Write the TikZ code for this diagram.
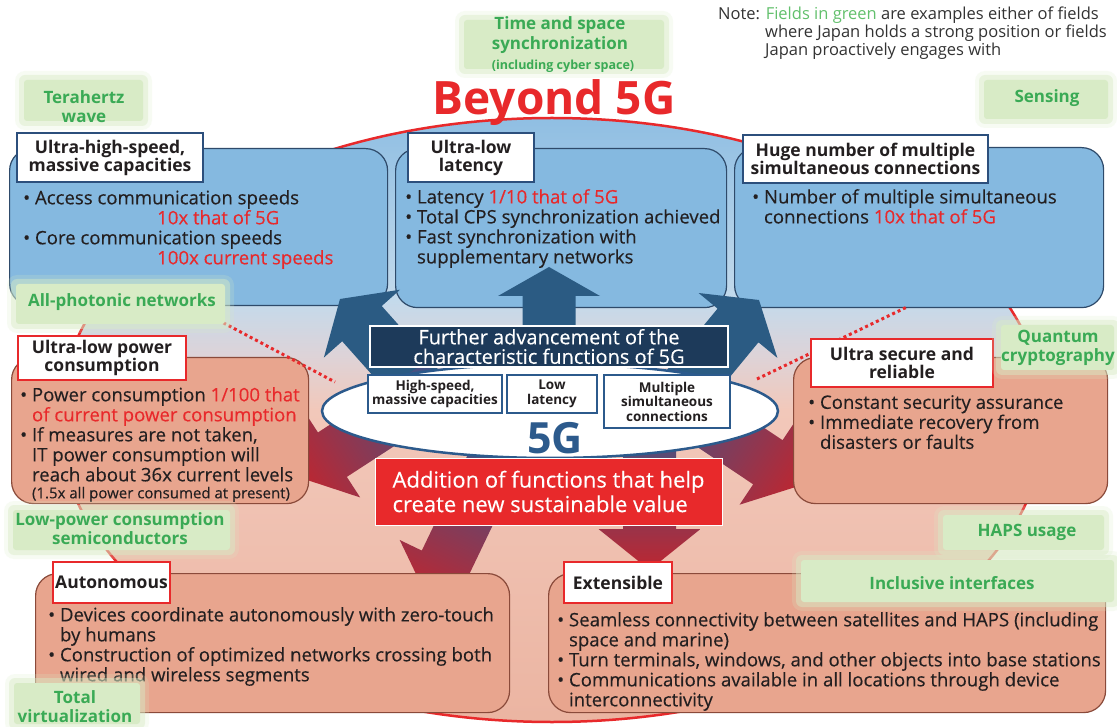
\documentclass[tikz,border=0pt]{standalone}
\usepackage{fontspec}
\setmainfont{Open Sans}
\newfontfamily\bodyfont{Open Sans}[FakeBold=0.25]
\usetikzlibrary{shapes.geometric}
\definecolor{hred}{HTML}{E8292B}
\definecolor{tblue}{HTML}{2C4F7C}
\definecolor{boxblue}{HTML}{85B9E0}
\definecolor{boxblueline}{HTML}{2E4A6A}
\definecolor{salmon}{HTML}{E8A58E}
\definecolor{salmonline}{HTML}{8A4A3A}
\definecolor{navy}{HTML}{1D3A5A}
\definecolor{arrowblue}{HTML}{2B5B83}
\definecolor{ared}{HTML}{BE2630}
\definecolor{apurple}{HTML}{3E5488}
\definecolor{ggreen}{HTML}{3AAA55}
\definecolor{glowc}{HTML}{D8EBC6}
\definecolor{notegreen}{HTML}{62C06C}
\definecolor{notegray}{HTML}{333333}
\definecolor{txt}{HTML}{231F20}
\definecolor{fiveg}{HTML}{2C5A8C}
\definecolor{bgA}{HTML}{8DBDE2}
\definecolor{bgB}{HTML}{C3DAEC}
\definecolor{bgM}{HTML}{DDD3D8}
\definecolor{bgC}{HTML}{F2C8BA}
\definecolor{bgD}{HTML}{EBB4A1}
\newcommand\cind{\hphantom{•\ }}
\newcommand\fatarrow[6]{%
  \begin{scope}[transform canvas={shift={(#1,#2)},rotate=#3}]
    \path[#6] (0,0) -- (#5,51) -- (#5,26.5) -- (#4,26.5) -- (#4,-26.5) -- (#5,-26.5) -- (#5,-51) -- cycle;
  \end{scope}}
\newcommand\greenglow[4]{%
  \fill[glowc,opacity=.2,rounded corners=10pt] ({#1-6},{#2-6}) rectangle ({#3+6},{#4+6});
  \fill[glowc,opacity=.45,rounded corners=6pt] ({#1-2},{#2-2}) rectangle ({#3+2},{#4+2});
  \fill[glowc,rounded corners=3pt] ({#1+3},{#2+3}) rectangle ({#3-3},{#4-3});}
\tikzset{
  body/.style={font=\bodyfont\fontsize{18.6}{20}\selectfont, text=txt, inner sep=0pt, align=left, anchor=north west, execute at begin node=\strut},
  bluebox/.style={draw=boxblueline, line width=1.2pt, fill=boxblue, rounded corners=22pt, inner sep=0pt, anchor=north west},
  salmonbox/.style={draw=salmonline, line width=1.2pt, fill=salmon, rounded corners=22pt, inner sep=0pt, anchor=north west},
  tbox/.style={fill=white, line width=2.2pt, inner sep=0pt, align=center, text=txt, font=\bfseries\fontsize{17.5}{18}\selectfont},
  sbox/.style={fill=white, draw=fiveg, line width=2pt, inner sep=0pt, align=center, text=txt, font=\bfseries\fontsize{13.5}{14.5}\selectfont},
  glabel/.style={font=\bfseries\fontsize{17}{19}\selectfont, text=ggreen, align=center, inner sep=0pt},
  dotline/.style={hred, line width=3pt, dash pattern=on 3pt off 3pt},
  redarrow/.style={left color=ared, right color=apurple},
}
\begin{document}
\begin{tikzpicture}[x=1pt,y=-1pt]
\useasboundingbox (0,0) rectangle (1117,727);
\fill[white] (0,0) rectangle (1117,727);
% big background ellipse
\begin{scope}
  \clip (552,420) ellipse [x radius=493, y radius=302];
  \shade[top color=bgA, bottom color=bgB] (50,110) rectangle (1060,300);
  \shade[top color=bgB, bottom color=bgC, middle color=bgM] (50,299.5) rectangle (1060,410);
  \shade[top color=bgC, bottom color=bgD] (50,409.5) rectangle (1060,730);
\end{scope}
\draw[hred, line width=2.5pt] (552,420) ellipse [x radius=493, y radius=302];

% blue boxes
\node[bluebox, minimum width=378pt, minimum height=157pt] (B1) at (9,148) {};
\node[bluebox, minimum width=331pt, minimum height=159pt] (B2) at (395,148) {};
\node[bluebox, minimum width=369pt, minimum height=160pt] (B3) at (734,147) {};

% blue arrows
\fatarrow{340}{299}{-48.3}{170}{33}{fill=arrowblue}
\fatarrow{549}{267}{-90}{140}{29}{fill=arrowblue}
\fatarrow{759}{300}{-129.5}{170}{33}{fill=arrowblue}
% red arrows
\fatarrow{298}{477}{33}{170}{41}{redarrow}
\fatarrow{802}{485}{146.3}{170}{41}{redarrow}
\fatarrow{428}{599}{64.4}{170}{41}{redarrow}
\fatarrow{649.5}{570}{90}{150}{41}{redarrow}

% salmon boxes
\node[salmonbox, minimum width=297pt, minimum height=146pt] (S4) at (11,357) {};
\node[salmonbox, minimum width=314pt, minimum height=146pt] (S5) at (793,357) {};
\node[salmonbox, minimum width=474pt, minimum height=139pt] (S6) at (35,573) {};
\node[salmonbox, minimum width=557pt, minimum height=139pt] (S7) at (548,573) {};

% centre
\node[ellipse, draw=fiveg, line width=2.5pt, fill=white, minimum width=456pt, minimum height=94pt, inner sep=0pt] (core) at (550,411) {};
\node[fill=navy, draw=white, line width=1.5pt, minimum width=358pt, minimum height=41pt, inner sep=0pt, text=white, align=center, font=\bodyfont\fontsize{20}{19.5}\selectfont] (adv) at (549,346.5) {Further advancement of the\\characteristic functions of 5G};
\node[sbox, minimum width=134pt, minimum height=38pt] (hs) at (435,394) {High-speed,\\massive capacities};
\node[sbox, minimum width=90pt, minimum height=38pt] (ll) at (552,394) {Low\\latency};
\node[sbox, minimum width=126pt, minimum height=53pt] (ms) at (667,401.5) {Multiple\\simultaneous\\connections};
\node[anchor=base, inner sep=0pt, text=fiveg, font=\bfseries\fontsize{43}{43}\selectfont] (fg) at (555,453) {5G};
\node[fill=hred, draw=white, line width=1pt, minimum width=347pt, minimum height=67pt, inner sep=0pt, text=white, align=left, font=\bodyfont\fontsize{22}{24.5}\selectfont] (add) at (548.5,491.5) {Addition of functions that help\\create new sustainable value};

% dotted connectors
\coordinate (dl1) at (218,320);
\coordinate (dl2) at (335,382);
\coordinate (dr1) at (757,379);
\coordinate (dr2) at (907,307);
\draw[dotline] (dl1) -- (dl2);
\draw[dotline] (dr1) -- (dr2);

% title boxes
\node[tbox, draw=tblue, minimum width=186pt, minimum height=49pt] (L1) at (110,157.5) {Ultra-high-speed,\\massive capacities};
\node[tbox, draw=tblue, minimum width=126pt, minimum height=49pt] (L2) at (471,157.5) {Ultra-low\\latency};
\node[tbox, draw=tblue, minimum width=245pt, minimum height=48pt] (L3) at (865.5,159) {Huge number of multiple\\simultaneous connections};
\node[tbox, draw=hred, minimum width=168pt, minimum height=44pt] (L4) at (102,358) {Ultra-low power\\consumption};
\node[tbox, draw=hred, minimum width=182pt, minimum height=48pt] (L5) at (902,363) {Ultra secure and\\reliable};
\node[tbox, draw=hred, minimum width=117pt, minimum height=41pt] (L6) at (111.5,582.5) {Autonomous};
\node[tbox, draw=hred, minimum width=108pt, minimum height=41pt] (L7) at (618,582.5) {Extensible};

% body texts
\node[body] (t1) at (23,190) {• Access communication speeds\\\hspace*{134pt}\textcolor{hred}{10x that of 5G}\\• Core communication speeds\\\hspace*{134pt}\textcolor{hred}{100x current speeds}};
\node[body] (t2) at (405,189) {• Latency \textcolor{hred}{1/10 that of 5G}\\• Total CPS synchronization achieved\\• Fast synchronization with\\\cind supplementary networks};
\node[body] (t3) at (752,189) {• Number of multiple simultaneous\\\cind connections \textcolor{hred}{10x that of 5G}};
\node[body] (t4) at (20,387) {• Power consumption \textcolor{hred}{1/100 that}\\\cind\textcolor{hred}{of current power consumption}\\• If measures are not taken,\\\cind IT power consumption will\\\cind reach about 36x current levels\\[-3pt]\cind{\fontsize{15}{17}\selectfont(1.5x all power consumed at present)}};
\node[body] (t5) at (808,395) {• Constant security assurance\\• Immediate recovery from\\\cind disasters or faults};
\node[body] (t6) at (48,607) {• Devices coordinate autonomously with zero-touch\\\cind by humans\\• Construction of optimized networks crossing both\\\cind wired and wireless segments};
\node[body] (t7) at (557,612) {• Seamless connectivity between satellites and HAPS (including\\\cind space and marine)\\• Turn terminals, windows, and other objects into base stations\\• Communications available in all locations through device\\\cind interconnectivity};

% green fields
\greenglow{461}{17}{667}{72}
\greenglow{21}{77}{146}{124}
\greenglow{981}{77}{1111}{122}
\greenglow{13}{281}{228}{327}
\greenglow{998}{322}{1117}{373}
\greenglow{10}{507}{233}{553}
\greenglow{940}{512}{1107}{553}
\greenglow{798}{557}{1117}{605}
\greenglow{11}{680}{143}{727}
\node[glabel, font=\bfseries\fontsize{17}{20}\selectfont] (gtime) at (560,35) {Time and space\\synchronization};
\node[glabel, font=\bfseries\fontsize{12.5}{14}\selectfont] (gtime2) at (563,66) {(including cyber space)};
\node[glabel] (gthz) at (84,106.5) {Terahertz\\wave};
\node[glabel] (gsens) at (1047,98) {Sensing};
\node[glabel] (gphot) at (122,302) {All-photonic networks};
\node[glabel] (gquant) at (1058,348) {Quantum\\cryptography};
\node[glabel] (glowp) at (120,529) {Low-power consumption\\semiconductors};
\node[glabel] (ghaps) at (1027,532) {HAPS usage};
\node[glabel] (gincl) at (952,583) {Inclusive interfaces};
\node[glabel] (gtotal) at (75,707) {Total\\virtualization};

% title and note
\node[anchor=base, inner sep=0pt, text=hred, font=\bfseries\fontsize{46}{46}\selectfont] (beyond) at (554,115) {Beyond 5G};
\node[anchor=north west, inner sep=0pt, align=left, text=notegray, font=\fontsize{16.5}{18}\selectfont, execute at begin node=\strut] (note) at (718,6.5) {Note: \textcolor{notegreen}{Fields in green} are examples either of fields\\\hspace*{47pt}where Japan holds a strong position or fields\\\hspace*{47pt}Japan proactively engages with};
\end{tikzpicture}
\end{document}
